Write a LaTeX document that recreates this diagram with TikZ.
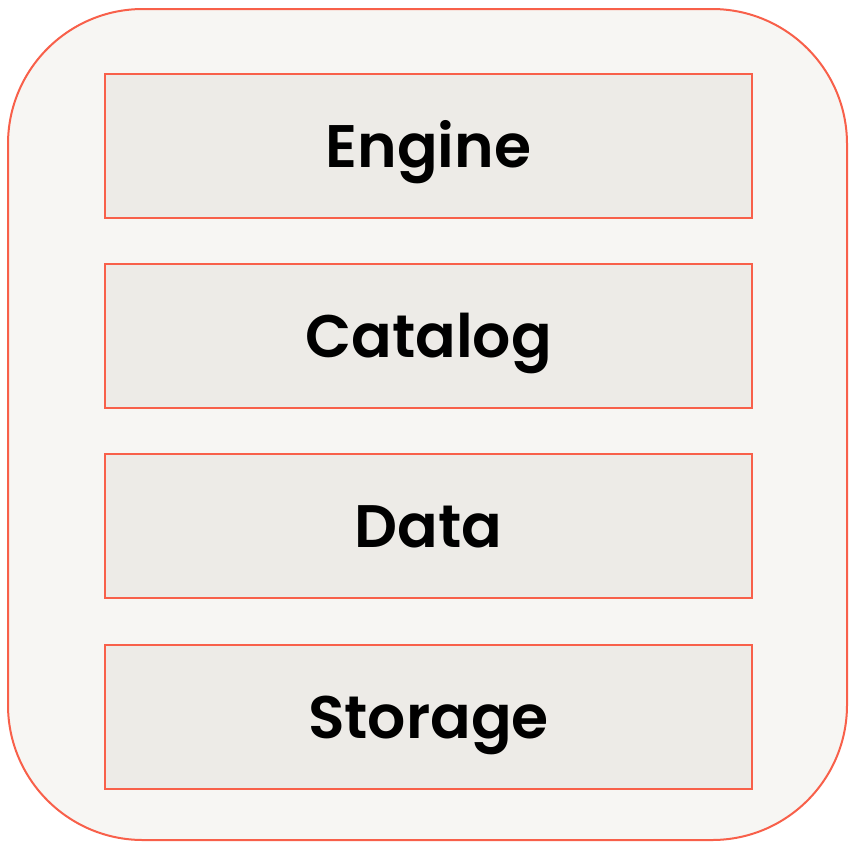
\documentclass[tikz,border=0pt]{standalone}
\usepackage{fontspec}
\setmainfont{Poppins}[BoldFont={Poppins SemiBold}]
\definecolor{strokec}{HTML}{F8604A}
\definecolor{outerfill}{HTML}{F7F6F3}
\definecolor{innerfill}{HTML}{EDEBE7}
\begin{document}
\begin{tikzpicture}[x=1pt,y=-1pt,
  layerbox/.style={draw=strokec, line width=2pt, fill=innerfill, minimum width=647pt, minimum height=144pt, inner sep=0pt, text height=43pt, text depth=0pt, font=\fontsize{60}{72}\selectfont\bfseries, text=black}]
\useasboundingbox (0,0) rectangle (850,841);
\fill[white] (0,0) rectangle (850,841);
\draw[strokec, fill=outerfill, line width=2pt, rounded corners=135pt] (8,9) rectangle (847,840);
\node[layerbox] (engine) at (428.5,146) {Engine};
\node[layerbox] (catalog) at (428.5,336) {Catalog};
\node[layerbox] (data) at (428.5,526) {Data};
\node[layerbox] (storage) at (428.5,716.5) {Storage};
\end{tikzpicture}
\end{document}
